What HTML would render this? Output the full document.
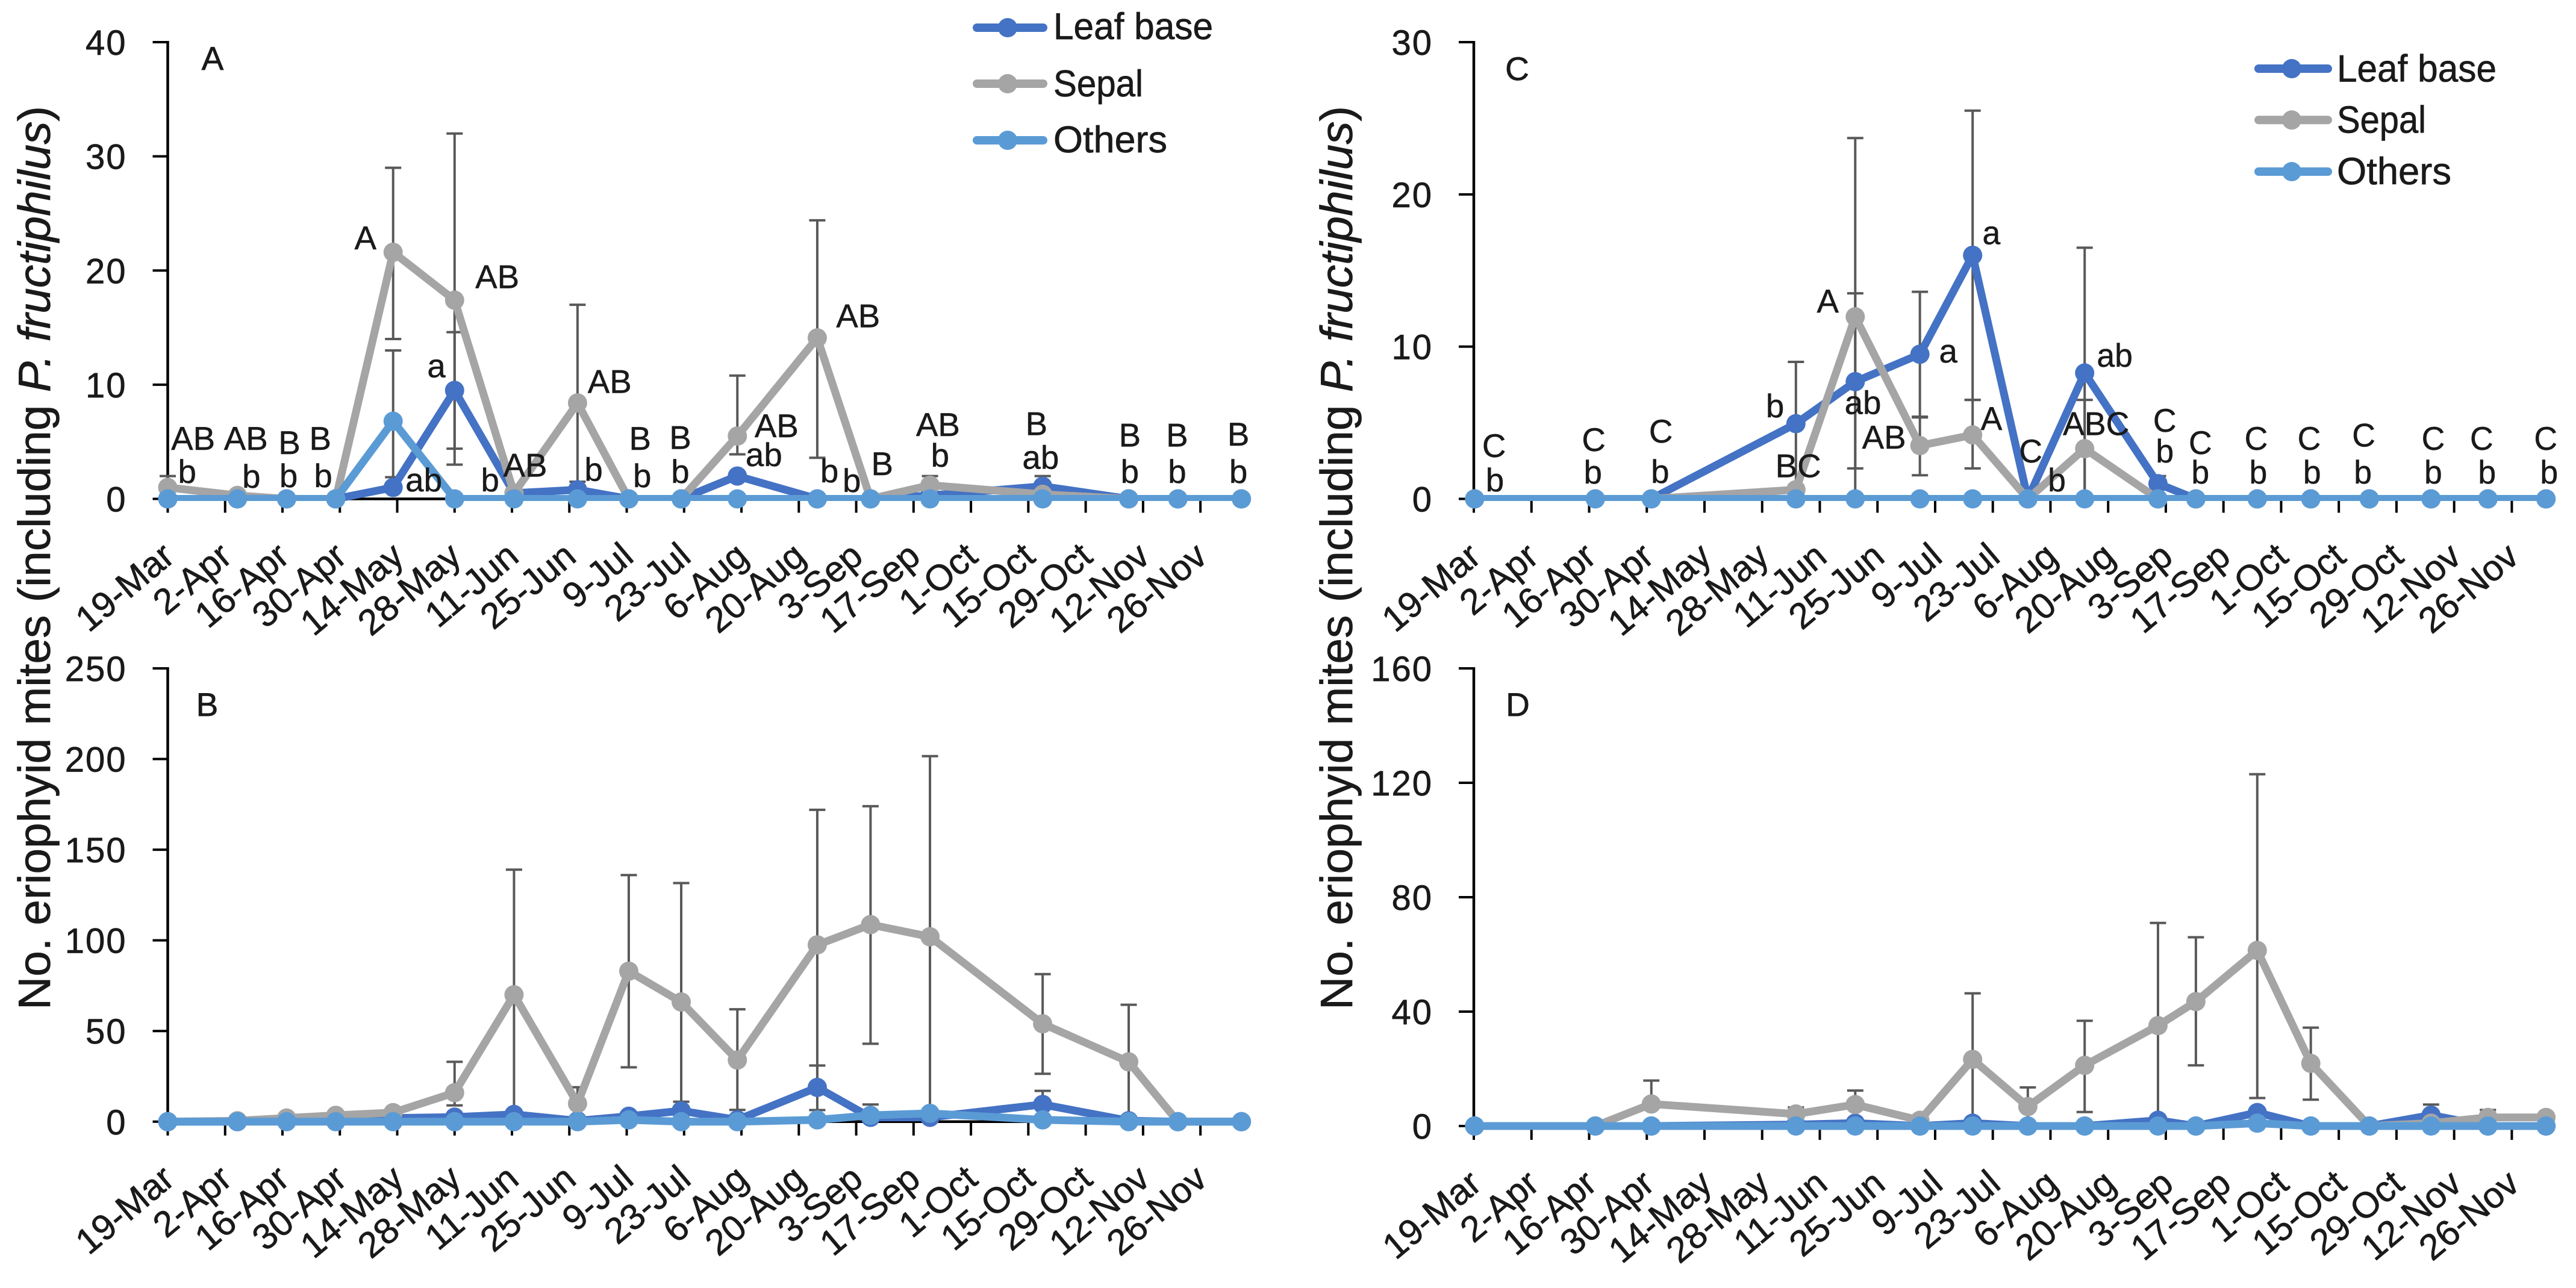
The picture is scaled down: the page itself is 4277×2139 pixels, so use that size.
<!DOCTYPE html>
<html lang="en">
<head>
<meta charset="utf-8">
<title>Seasonal mite counts</title>
<style>
html,body{margin:0;padding:0;background:#fff;}
svg{display:block;}
text{font-family:"Liberation Sans",sans-serif;fill:#1a1a1a;stroke:#1a1a1a;stroke-width:.7px;}
.ann{font-size:78px;text-anchor:middle;}
</style>
</head>
<body>
<svg id="chart" xmlns="http://www.w3.org/2000/svg" width="4277" height="2139" viewBox="0 0 4277 2139">
  <rect width="4277" height="2139" fill="#fff"/>
  <defs>
    <clipPath id="clipA"><rect x="200" y="0" width="1950" height="832"/></clipPath>
    <clipPath id="clipC"><rect x="2400" y="0" width="1877" height="832"/></clipPath>
  </defs>
  <g id="panelA"></g>
  <g id="panelB"></g>
  <g id="panelC"></g>
  <g id="panelD"></g>

  <text transform="translate(83,1677) rotate(-90)" font-size="75" textLength="1501" lengthAdjust="spacingAndGlyphs">No. eriophyid mites (including <tspan font-style="italic">P. fructiphilus</tspan>)</text>
  <text transform="translate(2245,1677) rotate(-90)" font-size="75" textLength="1501" lengthAdjust="spacingAndGlyphs">No. eriophyid mites (including <tspan font-style="italic">P. fructiphilus</tspan>)</text>

  <g font-size="55" text-anchor="middle">
    <text x="353" y="116">A</text>
    <text x="344" y="1189">B</text>
    <text x="2519" y="133">C</text>
    <text x="2520" y="1189">D</text>
  </g>

  <g transform="scale(.7015)">
    <text class="ann" x="457" y="1065">AB</text><text class="ann" x="443" y="1143">b</text>
    <text class="ann" x="582" y="1065">AB</text><text class="ann" x="595" y="1155">b</text>
    <text class="ann" x="685" y="1075">B</text><text class="ann" x="683" y="1153">b</text>
    <text class="ann" x="758" y="1065">B</text><text class="ann" x="765" y="1153">b</text>
    <text class="ann" x="865" y="590">A</text>
    <text class="ann" x="1177" y="682">AB</text>
    <text class="ann" x="1033" y="893">a</text>
    <text class="ann" x="1003" y="1163">ab</text>
    <text class="ann" x="1160" y="1163">b</text>
    <text class="ann" x="1243" y="1128">AB</text>
    <text class="ann" x="1443" y="930">AB</text>
    <text class="ann" x="1405" y="1138">b</text>
    <text class="ann" x="1515" y="1065">B</text><text class="ann" x="1520" y="1153">b</text>
  </g>
  <g transform="translate(1100,0) scale(.7015)">
    <text class="ann" x="42" y="1063">B</text><text class="ann" x="42" y="1143">b</text>
    <text class="ann" x="270" y="1035">AB</text><text class="ann" x="240" y="1103">ab</text>
    <text class="ann" x="463" y="775">AB</text>
    <text class="ann" x="395" y="1142">b</text><text class="ann" x="448" y="1165">b</text>
    <text class="ann" x="520" y="1125">B</text>
    <text class="ann" x="652" y="1032">AB</text><text class="ann" x="657" y="1105">b</text>
    <text class="ann" x="885" y="1030">B</text><text class="ann" x="895" y="1110">ab</text>
    <text class="ann" x="1106" y="1057">B</text><text class="ann" x="1106" y="1143">b</text>
    <text class="ann" x="1218" y="1057">B</text><text class="ann" x="1218" y="1143">b</text>
    <text class="ann" x="1363" y="1055">B</text><text class="ann" x="1363" y="1143">b</text>
  </g>
  <g transform="translate(2200,0) scale(.7015)">
    <text class="ann" x="400" y="1082">C</text><text class="ann" x="402" y="1163">b</text>
    <text class="ann" x="636" y="1068">C</text><text class="ann" x="634" y="1145">b</text>
    <text class="ann" x="795" y="1048">C</text><text class="ann" x="793" y="1143">b</text>
    <text class="ann" x="1065" y="988">b</text>
    <text class="ann" x="1120" y="1130">BC</text>
    <text class="ann" x="1190" y="740">A</text>
    <text class="ann" x="1273" y="980">ab</text>
    <text class="ann" x="1323" y="1062">AB</text>
    <text class="ann" x="1475" y="858">a</text>
  </g>
  <g transform="translate(3200,0) scale(.6868,.7015)">
    <text class="ann" x="155" y="578">a</text>
    <text class="ann" x="155" y="1018">A</text>
    <text class="ann" x="250" y="1095">C</text>
    <text class="ann" x="313" y="1163">b</text>
    <text class="ann" x="408" y="1030">ABC</text>
    <text class="ann" x="453" y="868">ab</text>
    <text class="ann" x="574" y="1022">C</text><text class="ann" x="574" y="1095">b</text>
    <text class="ann" x="660" y="1075">C</text><text class="ann" x="660" y="1145">b</text>
    <text class="ann" x="795" y="1065">C</text><text class="ann" x="800" y="1145">b</text>
    <text class="ann" x="923" y="1065">C</text><text class="ann" x="930" y="1145">b</text>
    <text class="ann" x="1055" y="1057">C</text><text class="ann" x="1053" y="1145">b</text>
    <text class="ann" x="1223" y="1065">C</text><text class="ann" x="1223" y="1145">b</text>
    <text class="ann" x="1340" y="1065">C</text><text class="ann" x="1353" y="1145">b</text>
    <text class="ann" x="1495" y="1065">C</text><text class="ann" x="1503" y="1145">b</text>
  </g>

  <g>
    <g>
      <line x1="1622" y1="46" x2="1732" y2="46" stroke="#4472C4" stroke-width="14" stroke-linecap="round"/>
      <circle cx="1673" cy="46" r="16" fill="#4472C4"/>
      <text x="1749" y="65" font-size="62" textLength="265" lengthAdjust="spacingAndGlyphs">Leaf base</text>
    </g>
    <g>
      <line x1="1622" y1="139" x2="1732" y2="139" stroke="#A5A5A5" stroke-width="14" stroke-linecap="round"/>
      <circle cx="1673" cy="139" r="16" fill="#A5A5A5"/>
      <text x="1749" y="160" font-size="62" textLength="149" lengthAdjust="spacingAndGlyphs">Sepal</text>
    </g>
    <g>
      <line x1="1622" y1="233" x2="1732" y2="233" stroke="#5B9BD5" stroke-width="14" stroke-linecap="round"/>
      <circle cx="1673" cy="233" r="16" fill="#5B9BD5"/>
      <text x="1749" y="253" font-size="62" textLength="189" lengthAdjust="spacingAndGlyphs">Others</text>
    </g>
  </g>
  <g>
    <g>
      <line x1="3750" y1="114" x2="3865" y2="114" stroke="#4472C4" stroke-width="14" stroke-linecap="round"/>
      <circle cx="3805" cy="114" r="16" fill="#4472C4"/>
      <text x="3880" y="135.7" font-size="63" textLength="265" lengthAdjust="spacingAndGlyphs">Leaf base</text>
    </g>
    <g>
      <line x1="3750" y1="199.3" x2="3865" y2="199.3" stroke="#A5A5A5" stroke-width="14" stroke-linecap="round"/>
      <circle cx="3805" cy="199.3" r="16" fill="#A5A5A5"/>
      <text x="3880" y="220.7" font-size="63" textLength="148" lengthAdjust="spacingAndGlyphs">Sepal</text>
    </g>
    <g>
      <line x1="3750" y1="285" x2="3865" y2="285" stroke="#5B9BD5" stroke-width="14" stroke-linecap="round"/>
      <circle cx="3805" cy="285" r="16" fill="#5B9BD5"/>
      <text x="3880" y="306" font-size="63" textLength="190" lengthAdjust="spacingAndGlyphs">Others</text>
    </g>
  </g>
</svg>

<script>
const tickLabels = ["19-Mar","2-Apr","16-Apr","30-Apr","14-May","28-May","11-Jun","25-Jun","9-Jul","23-Jul","6-Aug","20-Aug","3-Sep","17-Sep","1-Oct","15-Oct","29-Oct","12-Nov","26-Nov"];
const tickIntervalDays = 14;

const yTicksA = [0,10,20,30,40];
const yTicksB = [0,50,100,150,200,250];
const yTicksC = [0,10,20,30];
const yTicksD = [0,40,80,120,160];

/* sampling dates, days after 19-Mar */
const daysAB = [0,17,29,41,55,70,84.5,100,112.5,125.3,139,158.5,171.5,186,213.5,234.5,246.5,262];
const daysCD = [0.2,29.5,43.1,78.2,92.6,108.3,121.1,134.5,148.3,166.1,175.3,190.2,203.2,217.4,232.4,246.2,260.3];

/* Panel A */
const leafA   = [0,0,0,0,1,9.5,0.5,0.8,0,0,2,0,0,0.3,1.1,0,0,0];
const sepalA  = [1,0.3,0,0,21.6,17.4,0.5,8.4,0,0,5.5,14.1,0,1.2,0.4,0,0,0];
const othersA = [0,0,0,0,6.8,0,0,0,0,0,0,0,0,0,0,0,0,0];
const leafHiA   = [null,null,null,null,null,14.6,null,1.5,null,null,null,null,null,null,2,null,null,null];
const leafLoA   = [null,null,null,null,null,4.4,null,null,null,null,null,null,null,null,null,null,null,null];
const sepalHiA  = [2,null,null,null,29,32,null,17,null,null,10.8,24.4,null,2,null,null,null,null];
const sepalLoA  = [null,null,null,null,14,3,null,0,null,null,3.9,3.6,null,null,null,null,null,null];
const othersHiA = [null,null,null,null,13,null,null,null,null,null,null,null,null,null,null,null,null,null];
const othersLoA = [null,null,null,null,1.9,null,null,null,null,null,null,null,null,null,null,null,null,null];

/* Panel B */
const leafB   = [0,0,1,1,2,2.5,4,0.5,3,6,1,18.9,2.4,2.4,9.5,0.5,0,0];
const sepalB  = [0,0.5,2,3.5,5,16,70,10,83,66,34,97.5,108.7,102,54,33,0,0];
const othersB = [0,0,0,0,0,0,0,0,1,0,0,1,3.5,4.6,1,0,0,0];
const leafHiB   = [null,null,null,null,null,null,null,null,null,11,null,31,9.5,null,17,null,null,null];
const leafLoB   = [null,null,null,null,null,null,null,null,null,null,null,null,null,null,null,null,null,null];
const sepalHiB  = [null,null,null,null,null,33,139,19,136,131.6,62,172,174,201.6,81.4,64.5,null,null];
const sepalLoB  = [null,null,null,null,null,9,0,1.5,30,1,6.5,6.4,43,4,26.4,2,null,null];
const othersHiB = [null,null,null,null,null,null,null,null,null,null,null,null,null,null,null,null,null,null];
const othersLoB = [null,null,null,null,null,null,null,null,null,null,null,null,null,null,null,null,null,null];

/* Panel C */
const leafC   = [0,0,0,4.94,7.7,9.5,16,0,8.27,1,0,0,0,0,0,0,0];
const sepalC  = [0,0,0,0.6,11.96,3.5,4.2,0,3.3,0,0,0,0,0,0,0,0];
const othersC = [0,0,0,0,0,0,0,0,0,0,0,0,0,0,0,0,0];
const leafHiC   = [null,null,null,9,13.5,13.6,25.5,null,16.5,1.5,null,null,null,null,null,null,null];
const leafLoC   = [null,null,null,0.9,2,5.35,6.5,null,0,null,null,null,null,null,null,null,null];
const sepalHiC  = [null,null,null,null,23.7,5.4,6.5,null,6.5,null,null,null,null,null,null,null,null];
const sepalLoC  = [null,null,null,null,0.2,1.55,2,null,0,null,null,null,null,null,null,null,null];
const othersHiC = [null,null,null,null,null,null,null,null,null,null,null,null,null,null,null,null,null];
const othersLoC = [null,null,null,null,null,null,null,null,null,null,null,null,null,null,null,null,null];

/* Panel D */
const leafD   = [0,0,0,0.5,1,0,1,0,0,2,0,4.7,0,0,3.8,0,0];
const sepalD  = [0,0,7.7,4.2,7.5,2,23.3,6.8,21.2,35.1,43.5,61.4,21.9,0,1,3,3];
const othersD = [0,0,0,0,0,0,0,0,0,0,0,1,0,0,0,0,0];
const leafHiD   = [null,null,null,null,null,null,null,null,null,null,null,null,null,null,7.5,null,null];
const leafLoD   = [null,null,null,null,null,null,null,null,null,null,null,null,null,null,null,null,null];
const sepalHiD  = [null,null,15.9,6.5,12.4,null,46.4,13.5,36.8,71,66,123,34.4,null,null,5.6,null];
const sepalLoD  = [null,null,null,null,null,null,0.2,1,4.9,0,21.2,9.8,9.2,null,null,null,null];
const othersHiD = [null,null,null,null,null,null,null,null,null,null,null,null,null,null,null,null,null];
const othersLoD = [null,null,null,null,null,null,null,null,null,null,null,null,null,null,null,null,null];

const NS = "http://www.w3.org/2000/svg";
const COLORS = {leaf:"#4472C4", sepal:"#A5A5A5", others:"#5B9BD5"};

function make(tag, parent, attrs) {
  const el = document.createElementNS(NS, tag);
  for (const k in attrs) el.setAttribute(k, attrs[k]);
  parent.appendChild(el);
  return el;
}

function drawPanel(cfg) {
  const root = document.getElementById(cfg.id);
  const maxY = cfg.yTicks[cfg.yTicks.length - 1];
  const xScale = d => cfg.axisX + d * cfg.pxPerDay;
  const yScale = v => cfg.zeroY - v * (cfg.zeroY - cfg.topY) / maxY;
  const lastTickX = xScale((tickLabels.length - 1) * tickIntervalDays);

  const yAxis = make("line", root, {x1:cfg.axisX, x2:cfg.axisX, y1:cfg.topY - 2, y2:cfg.zeroY + 2, stroke:"#000", "stroke-width":4.5});
  
  

  const xAxis = make("line", root, {x1:cfg.axisX, x2:lastTickX, y1:cfg.zeroY, y2:cfg.zeroY, stroke:"#000", "stroke-width":4.5});
  
  

  cfg.yTicks.forEach(v => {
    const y = yScale(v);
    const t = make("line", root, {x1:cfg.axisX - 25, x2:cfg.axisX, y1:y, y2:y, stroke:"#000", "stroke-width":4});
    
    
    const lab = make("text", root, {x:cfg.axisX - 68, y:y + 21, "font-size":58, "text-anchor":"end", "letter-spacing":2});
    
    
    lab.textContent = v;
  });

  tickLabels.forEach((label, i) => {
    const x = xScale(i * tickIntervalDays);
    const t = make("line", root, {x1:x, x2:x, y1:cfg.zeroY, y2:cfg.zeroY + 23, stroke:"#000", "stroke-width":4});
    
    
    const lab = make("text", root, {"font-size":60, "text-anchor":"end", transform:"translate(" + (x + cfg.labelDx) + "," + cfg.labelY + ") rotate(-40)"});
    
    
    lab.textContent = label;
  });

  cfg.series.forEach(s => {
    s.values.forEach((val, i) => {
      if (s.hi[i] === null && s.lo[i] === null) return;
      const x = xScale(cfg.days[i]);
      const top = s.hi[i] === null ? val : s.hi[i];
      const bot = s.lo[i] === null ? val : s.lo[i];
      const g = make("g", root, {stroke:"#595959", "stroke-width":4});
      
      
      make("line", g, {x1:x, x2:x, y1:yScale(top), y2:yScale(bot)});
      if (s.hi[i] !== null) make("line", g, {x1:x - 13.5, x2:x + 13.5, y1:yScale(top), y2:yScale(top)});
      if (s.lo[i] !== null) make("line", g, {x1:x - 13.5, x2:x + 13.5, y1:yScale(bot), y2:yScale(bot)});
    });
  });

  cfg.series.forEach(s => {
    const pts = s.values.map((v, i) => xScale(cfg.days[i]) + "," + yScale(v)).join(" ");
    const attrs = {points:pts, fill:"none", stroke:COLORS[s.key], "stroke-width":13, "stroke-linejoin":"round", "stroke-linecap":"round"};
    if (cfg.clip) attrs["clip-path"] = "url(#" + cfg.clip + ")";
    const line = make("polyline", root, attrs);
    
    
    s.values.forEach((v, i) => {
      const c = make("circle", root, {cx:xScale(cfg.days[i]), cy:yScale(v), r:16, fill:COLORS[s.key]});
      
      
    });
  });
}

drawPanel({id:"panelA", axisX:278.5, pxPerDay:6.804, zeroY:828.5, topY:70, labelDx:14.5, labelY:929.6, clip:"clipA", yTicks:yTicksA, days:daysAB, series:[
  {key:"leaf", values:leafA, hi:leafHiA, lo:leafLoA},
  {key:"sepal", values:sepalA, hi:sepalHiA, lo:sepalLoA},
  {key:"others", values:othersA, hi:othersHiA, lo:othersLoA}]});
drawPanel({id:"panelB", axisX:278.5, pxPerDay:6.804, zeroY:1862.8, topY:1110, labelDx:14.5, labelY:1963.6, clip:null, yTicks:yTicksB, days:daysAB, series:[
  {key:"leaf", values:leafB, hi:leafHiB, lo:leafLoB},
  {key:"sepal", values:sepalB, hi:sepalHiB, lo:sepalLoB},
  {key:"others", values:othersB, hi:othersHiB, lo:othersLoB}]});
drawPanel({id:"panelC", axisX:2447, pxPerDay:6.839, zeroY:828.5, topY:70, labelDx:15, labelY:930, clip:"clipC", yTicks:yTicksC, days:daysCD, series:[
  {key:"leaf", values:leafC, hi:leafHiC, lo:leafLoC},
  {key:"sepal", values:sepalC, hi:sepalHiC, lo:sepalLoC},
  {key:"others", values:othersC, hi:othersHiC, lo:othersLoC}]});
drawPanel({id:"panelD", axisX:2447, pxPerDay:6.839, zeroY:1870, topY:1110, labelDx:16, labelY:1971.6, clip:null, yTicks:yTicksD, days:daysCD, series:[
  {key:"leaf", values:leafD, hi:leafHiD, lo:leafLoD},
  {key:"sepal", values:sepalD, hi:sepalHiD, lo:sepalLoD},
  {key:"others", values:othersD, hi:othersHiD, lo:othersLoD}]});
</script>
</body>
</html>
